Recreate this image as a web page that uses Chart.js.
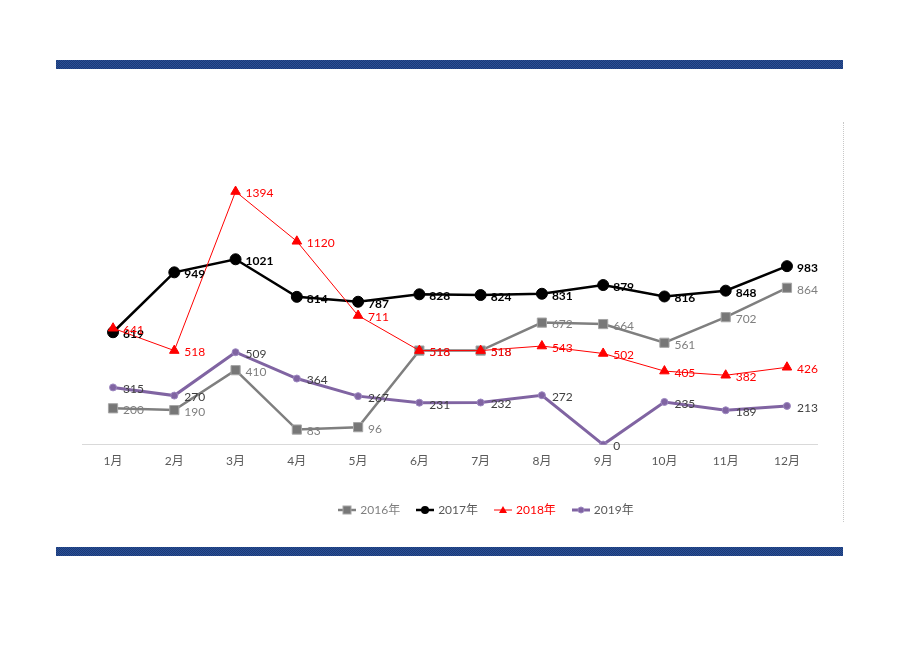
<!DOCTYPE html>
<html>
<head>
<meta charset="utf-8">
<script src="https://cdn.jsdelivr.net/npm/chart.js@4/dist/chart.umd.min.js"></script>
<style>
  body { margin: 0; background: #fff; font-family: Lato, "Noto Sans CJK SC", sans-serif; }
  #page { position: relative; width: 920px; height: 651px; overflow: hidden; }
  .band {
    position: absolute; left: 56px; width: 787px; height: 9px;
    background: repeating-conic-gradient(#1b3a78 0 25%, #2a4f95 0 50%) 0 0 / 2px 2px;
  }
  #dots { position: absolute; left: 843px; top: 122px; height: 400px; border-left: 1px dotted #c8c8c8; }
  #grafico-box { position: absolute; left: 0; top: 0; width: 920px; height: 651px; }
  #legenda {
    position: absolute; top: 502px; left: 0; width: 972px;
    display: flex; justify-content: center; gap: 16px;
    font-size: 12px; line-height: 16px;
  }
  #legenda span { display: flex; align-items: center; gap: 4px; }
</style>
</head>
<body>
<div id="page">
  <div class="band" style="top:60px"></div>
  <div class="band" style="top:547px"></div>
  <div id="dots"></div>
  <div id="grafico-box"><canvas id="grafico"></canvas></div>
  <div id="legenda"></div>
</div>
<script>
const meses = ["1月", "2月", "3月", "4月", "5月", "6月", "7月", "8月", "9月", "10月", "11月", "12月"];
const anos = ["2016年", "2017年", "2018年", "2019年"];
const valores2016 = [200, 190, 410, 83, 96, 518, 518, 672, 664, 561, 702, 864];
const valores2017 = [619, 949, 1021, 814, 787, 828, 824, 831, 879, 816, 848, 983];
const valores2018 = [641, 518, 1394, 1120, 711, 518, 518, 543, 502, 405, 382, 426];
const valores2019 = [315, 270, 509, 364, 267, 231, 232, 272, 0, 235, 189, 213];

const fonte = "Lato, 'Noto Sans CJK SC', sans-serif";

// cores de cada serie: linha, marcador, rotulo
const estilos = [
  { linha: "#7f7f7f", marca: "#777777", borda: "#a6a6a6", rotulo: "#7f7f7f", legenda: "#7f7f7f", negrito: false },
  { linha: "#000000", marca: "#000000", borda: "#000000", rotulo: "#000000", legenda: "#595959", negrito: true },
  { linha: "#ff0000", marca: "#ff0000", borda: "#ff0000", rotulo: "#ff0000", legenda: "#ff0000", negrito: false },
  { linha: "#8064a2", marca: "#8064a2", borda: "#9c87c0", rotulo: "#404040", legenda: "#595959", negrito: false }
];

// rotulos de dados ao lado de cada ponto
const rotulosPlugin = {
  id: "rotulos",
  afterDatasetsDraw(chart) {
    const ctx = chart.ctx;
    ctx.save();
    ctx.textBaseline = "middle";
    ctx.textAlign = "left";
    chart.data.datasets.forEach((ds, i) => {
      const meta = chart.getDatasetMeta(i);
      const e = estilos[i];
      ctx.fillStyle = e.rotulo;
      ctx.font = (e.negrito ? "bold " : "") + "12px " + fonte;
      meta.data.forEach((p, j) => {
        ctx.fillText(String(ds.data[j]), p.x + 10, p.y + 2);
      });
    });
    ctx.restore();
  }
};

const ctx = document.getElementById("grafico").getContext("2d");

const grafico = new Chart(ctx, {
  type: "line",
  data: {
    labels: meses,
    datasets: [
      {
        label: anos[0], data: valores2016, order: 4,
        borderColor: estilos[0].linha, borderWidth: 2.5,
        pointStyle: "rect", pointRadius: 6.5,
        pointBackgroundColor: estilos[0].marca, pointBorderColor: estilos[0].borda, pointBorderWidth: 1
      },
      {
        label: anos[1], data: valores2017, order: 3,
        borderColor: estilos[1].linha, borderWidth: 2.5,
        pointStyle: "circle", pointRadius: 5.5,
        pointBackgroundColor: estilos[1].marca, pointBorderColor: estilos[1].borda, pointBorderWidth: 1
      },
      {
        label: anos[2], data: valores2018, order: 2,
        borderColor: estilos[2].linha, borderWidth: 1,
        pointStyle: "triangle", pointRadius: 5.5,
        pointBackgroundColor: estilos[2].marca, pointBorderColor: estilos[2].borda, pointBorderWidth: 1
      },
      {
        label: anos[3], data: valores2019, order: 1,
        borderColor: estilos[3].linha, borderWidth: 3,
        pointStyle: "circle", pointRadius: 3.5,
        pointBackgroundColor: estilos[3].marca, pointBorderColor: estilos[3].borda, pointBorderWidth: 1
      }
    ]
  },
  options: {
    responsive: true,
    maintainAspectRatio: false,
    animation: false,
    layout: { padding: { left: 82.4, right: 102.4, top: 0, bottom: 174 } },
    plugins: {
      legend: { display: false },
      tooltip: { enabled: false }
    },
    scales: {
      x: {
        offset: true,
        grid: { display: false, drawTicks: false },
        border: { display: true, color: "#d9d9d9", width: 1 },
        ticks: { color: "#595959", font: { family: fonte, size: 12 }, padding: 9 }
      },
      y: {
        display: false,
        min: 0,
        max: 2408
      }
    }
  },
  plugins: [rotulosPlugin]
});

// legenda em html com linha e marcador
const legenda = document.getElementById("legenda");
const marcadores = [
  '<rect x="5" y="2" width="8" height="8" fill="#777" stroke="#a6a6a6"/>',
  '<circle cx="9" cy="6" r="4" fill="#000"/>',
  '<polygon points="9,2 13,9 5,9" fill="#f00"/>',
  '<circle cx="9" cy="6" r="3" fill="#8064a2" stroke="#9c87c0"/>'
];
const espessuras = [2.5, 2.5, 1, 3];
anos.forEach((ano, i) => {
  const item = document.createElement("span");
  item.innerHTML = `
    <svg width="18" height="12"><line x1="0" y1="6" x2="18" y2="6" stroke="${estilos[i].linha}" stroke-width="${espessuras[i]}"/>${marcadores[i]}</svg>
    <b style="font-weight:normal;color:${estilos[i].legenda}">${ano}</b>
  `;
  legenda.appendChild(item);
});
</script>
</body>
</html>
